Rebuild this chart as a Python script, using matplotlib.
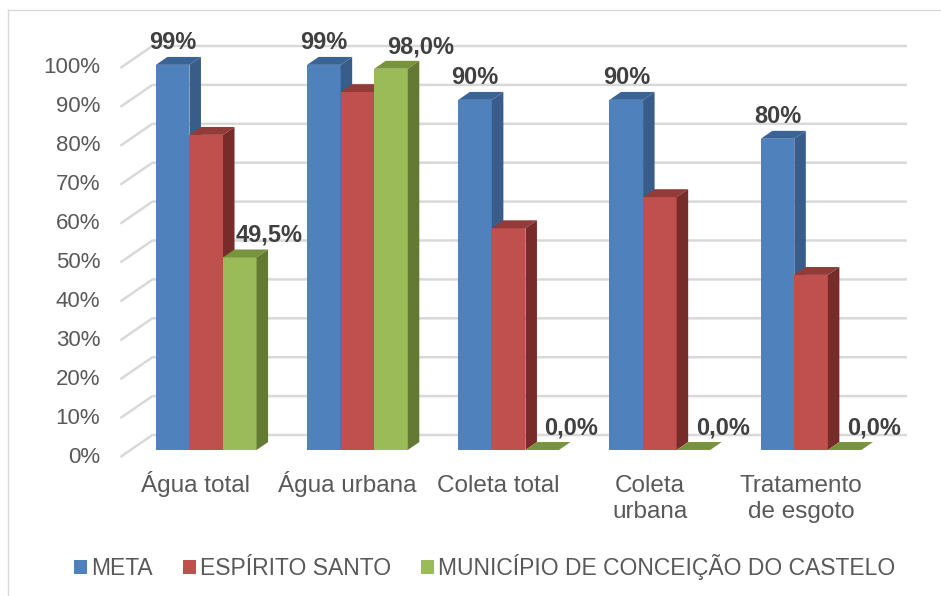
import numpy as np
import matplotlib.pyplot as plt
from matplotlib.patches import Polygon, Patch
from matplotlib.lines import Line2D

plt.rcParams['font.family'] = ['Liberation Sans', 'DejaVu Sans']

# data
categories = ['Água total', 'Água urbana', 'Coleta total', 'Coleta\nurbana', 'Tratamento\nde esgoto']
series_names = ['META', 'ESPÍRITO SANTO', 'MUNICÍPIO DE CONCEIÇÃO DO CASTELO']
meta = [99, 99, 90, 90, 80]
espirito_santo = [81, 92, 57, 65, 45]
municipio = [49.5, 98.0, 0.0, 0.0, 0.0]
yticks = list(range(0, 101, 10))

# colours (front, top, side)
colors = [('#4F81BD', '#3B6496', '#385D8A'),
          ('#C0504D', '#933B39', '#772C2A'),
          ('#9BBB59', '#77933C', '#647A32')]

# pseudo 3d geometry (data units: x = category, y = percent)
DX = 32 / 151.2      # full depth shift in x
DY = 22 / 3.89       # full depth shift in y
F0, F1 = 0.32, 0.68  # bar front / back depth fraction
W = 0.222            # bar width
X_LEFT, X_RIGHT = -0.5, 4.49


def proj(x, v, f):
    return (x + f * DX, v + f * DY)


fig = plt.figure(figsize=(9.41, 5.96), dpi=100)
ax = fig.add_axes([0, 0, 1, 1])
ax.set_xlim(-1.296, 4.927)
ax.set_ylim(-35.73, 117.48)
ax.axis('off')

# outer frame
fig.add_artist(Line2D([8 / 941, 1], [1 - 10 / 596, 1 - 10 / 596], color='#D9D9D9', lw=1))
fig.add_artist(Line2D([8 / 941, 8 / 941], [0, 1 - 10 / 596], color='#D9D9D9', lw=1))

# gridlines on back wall + left wall diagonals
for t in yticks:
    p0 = proj(X_LEFT, t, 0)
    p1 = proj(X_LEFT, t, 1)
    p2 = proj(X_RIGHT, t, 1)
    ax.plot([p0[0], p1[0], p2[0]], [p0[1], p1[1], p2[1]], color='#D9D9D9', lw=1.8,
            solid_capstyle='butt', zorder=1)
    ax.text(p0[0] - 20 / 151.2, t, f'{t}%', ha='right', va='center',
            fontsize=16, color='#595959')

all_series = [meta, espirito_santo, municipio]
for i, cat in enumerate(categories):
    for j, vals in enumerate(all_series):
        v = vals[i]
        xl = i + (j - 1.5) * W
        xr = xl + W
        front, top, side = colors[j]
        if v > 0:
            ax.add_patch(Polygon([proj(xl, 0, F0), proj(xr, 0, F0), proj(xr, v, F0), proj(xl, v, F0)],
                                 closed=True, fc=front, ec='none', zorder=2))
        ax.add_patch(Polygon([proj(xl, v, F0), proj(xr, v, F0), proj(xr, v, F1), proj(xl, v, F1)],
                             closed=True, fc=top, ec='none', zorder=2))
        ax.add_patch(Polygon([proj(xr, 0, F0), proj(xr, v, F0), proj(xr, v, F1), proj(xr, 0, F1)],
                             closed=True, fc=side, ec='none', zorder=2))
        # data labels
        cx, cy = proj((xl + xr) / 2, v, F0)
        if j == 0:
            ax.annotate(f'{v:.0f}%', (cx, cy), xytext=(0, 16), textcoords='offset points',
                        ha='center', va='center', fontsize=17, fontweight='bold',
                        color='#404040', zorder=4)
        elif j == 2:
            ax.annotate(f'{v:.1f}%'.replace('.', ','), (cx, cy), xytext=(21, 16),
                        textcoords='offset points', ha='center', va='center',
                        fontsize=17, fontweight='bold', color='#404040', zorder=4)
    # category label, one text per line so baselines line up
    for k, line in enumerate(cat.split('\n')):
        ax.text(i, -9.0 - k * 6.68, line, ha='center', va='baseline', fontsize=17.5,
                color='#595959')

handles = [Patch(fc=c[0], ec='none') for c in colors]
fig.legend(handles, series_names, loc='center', bbox_to_anchor=(485 / 941, 1 - 567 / 596),
           ncol=3, frameon=False, fontsize=16.5, handlelength=0.55, handleheight=0.55,
           handletextpad=0.2, columnspacing=1.3, labelcolor='#595959')

fig.savefig('out.png', dpi=100)
